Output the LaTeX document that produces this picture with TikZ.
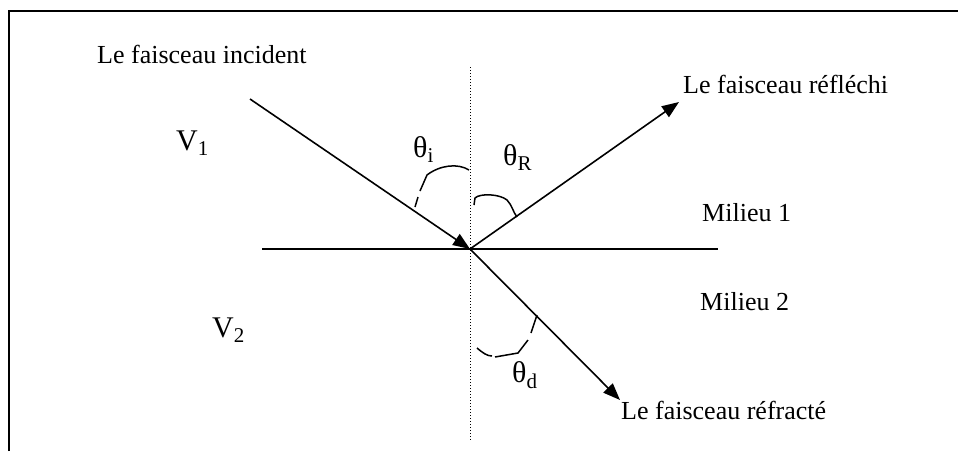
\documentclass[tikz,border=0pt]{standalone}
\usepackage{fontspec}
\setmainfont{Liberation Serif}
\usetikzlibrary{arrows.meta}
\begin{document}
\begin{tikzpicture}[x=1pt,y=-1pt,
  lbl/.style={anchor=base west,inner sep=0pt,font=\fontsize{26}{30}\selectfont},
  sym/.style={anchor=base west,inner sep=0pt,font=\fontsize{30}{34}\selectfont},
  ray/.style={line width=1.6pt},
  arr/.style={-{Triangle[length=17pt,width=13pt]}},
  marc/.style={line width=1.5pt}]
\useasboundingbox (0,0) rectangle (958,451);
% frame
\draw[line width=2.4pt] (9,451) -- (9,11) -- (958,11);
% points
\coordinate (O) at (470,249);
\coordinate (A) at (250,99);
\coordinate (R) at (679,102);
\coordinate (T) at (620,400);
\coordinate (L) at (262,249);
\coordinate (Rr) at (718,249);
\coordinate (N1) at (470,67);
\coordinate (N2) at (470,440);
% interface and normal
\draw[ray] (L) -- (Rr);
\draw[line width=1pt,dotted] (N1) -- (N2);
% rays
\draw[ray,arr] (A) -- (O);
\draw[ray,arr] (O) -- (R);
\draw[ray,arr] (O) -- (T);
% angle marks
\draw[marc] (415,207) -- (418,197);
\draw[marc] (420,191) -- (427,175) .. controls (440,165) and (458,163) .. (469,170);
\draw[marc] (474,205) -- (475,198) .. controls (480,193) and (500,194) .. (507,200) .. controls (512,205) and (513,212) .. (517,217);
\draw[marc] (477,348) .. controls (483,353) and (487,356) .. (492,356);
\draw[marc] (495,357) -- (518,353) -- (528,340);
\draw[marc] (531,333) -- (537,315);
% labels
\node[lbl] (tinc) at (97,63) {Le faisceau incident};
\node[lbl] (trefl) at (683,93) {Le faisceau réfléchi};
\node[lbl] (tm1) at (702,221) {Milieu 1};
\node[lbl] (tm2) at (700,310) {Milieu 2};
\node[lbl] (trefr) at (621,419) {Le faisceau réfracté};
\node[sym] (v1) at (176,150) {V\textsubscript{1}};
\node[sym] (v2) at (212,337) {V\textsubscript{2}};
\node[sym] (thi) at (413,157) {θ\textsubscript{i}};
\node[sym] (thr) at (503,165) {θ\textsubscript{R}};
\node[sym] (thd) at (512,382) {θ\textsubscript{d}};
\end{tikzpicture}
\end{document}
